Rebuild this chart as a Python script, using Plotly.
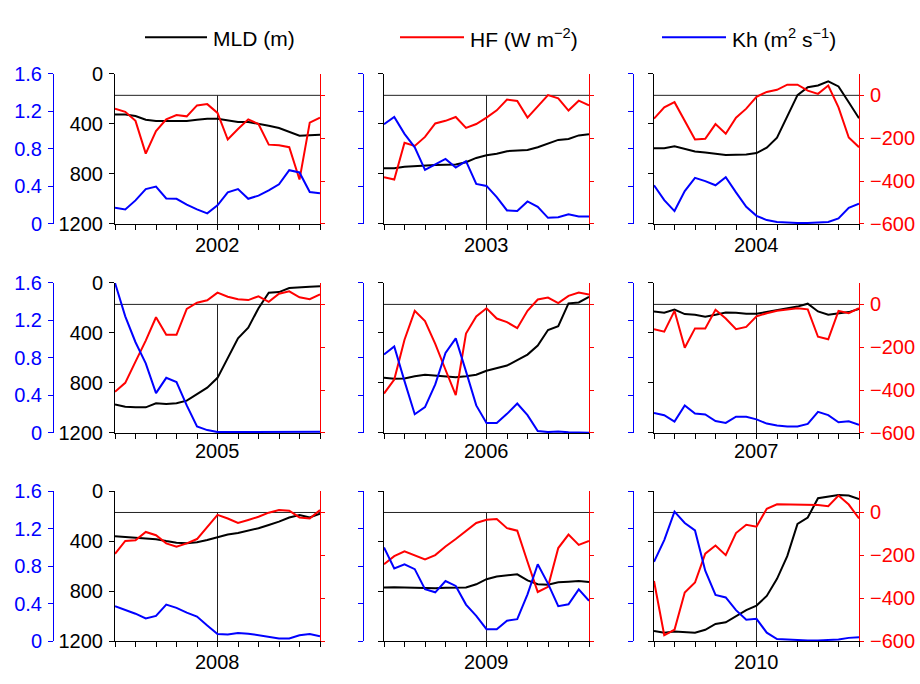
import plotly.graph_objects as go

# Monthly index across each panel (21 samples, tick every 2)
months = list(range(21))
years = [2002, 2003, 2004, 2005, 2006, 2007, 2008, 2009, 2010]

# Mixed layer depth (m)
mld_2002 = [325, 325, 337, 366, 376, 376, 376, 376, 366, 358, 358, 373, 384, 384, 397, 415, 433, 464, 494, 490, 487]
mld_2003 = [754, 754, 742, 736, 734, 729, 726, 724, 706, 672, 651, 639, 618, 610, 608, 587, 556, 528, 520, 492, 482]
mld_2004 = [595, 595, 579, 597, 621, 628, 636, 649, 646, 644, 633, 590, 510, 337, 170, 106, 93, 59, 100, 227, 355]
mld_2005 = [972, 990, 995, 995, 962, 969, 962, 941, 889, 837, 759, 604, 443, 358, 202, 78, 73, 41, 34, 31, 26]
mld_2006 = [759, 767, 765, 746, 734, 741, 752, 754, 746, 734, 702, 682, 661, 617, 573, 500, 376, 345, 163, 156, 111]
mld_2007 = [228, 238, 213, 249, 254, 270, 254, 236, 238, 246, 246, 233, 220, 207, 189, 166, 228, 254, 241, 233, 207]
mld_2008 = [361, 367, 374, 374, 385, 400, 413, 418, 410, 392, 367, 348, 336, 317, 297, 271, 245, 212, 191, 212, 181]
mld_2009 = [772, 769, 772, 774, 777, 777, 774, 772, 772, 746, 705, 684, 676, 666, 715, 746, 749, 730, 725, 720, 728]
mld_2010 = [1120, 1133, 1123, 1125, 1133, 1110, 1063, 1050, 1004, 952, 916, 839, 702, 521, 263, 212, 57, 44, 31, 36, 65]

# Surface heat flux (W m-2)
hf_2002 = [-62, -77, -119, -272, -167, -112, -92, -98, -47, -41, -82, -206, -157, -112, -134, -230, -233, -242, -393, -127, -104]
hf_2003 = [-382, -393, -221, -236, -194, -131, -119, -101, -152, -134, -104, -70, -20, -26, -104, -52, 1, -14, -71, -25, -47]
hf_2004 = [-109, -56, -32, -122, -206, -203, -134, -179, -104, -62, -7, 16, 26, 50, 50, 22, 7, 46, -56, -197, -242]
hf_2005 = [-408, -366, -267, -169, -60, -142, -142, -21, 8, 19, 55, 36, 24, 20, 38, 12, 50, 61, 33, 24, 47]
hf_2006 = [-416, -351, -165, -30, -78, -184, -305, -423, -136, -56, -18, -66, -83, -111, -30, 23, 32, 6, 40, 55, 46]
hf_2007 = [-116, -127, -30, -202, -112, -112, -25, -66, -116, -105, -56, -41, -30, -25, -18, -23, -151, -163, -30, -41, -18]
hf_2008 = [-193, -133, -130, -91, -106, -144, -160, -144, -124, -66, -11, -28, -49, -35, -20, -1, 11, 8, -23, -28, 11]
hf_2009 = [-242, -204, -181, -199, -219, -199, -159, -124, -88, -49, -34, -31, -73, -85, -230, -371, -347, -166, -103, -151, -133]
hf_2010 = [-320, -573, -547, -373, -327, -192, -154, -199, -96, -57, -66, 17, 38, 38, 37, 35, 35, 29, 79, 37, -28]

# Horizontal eddy diffusivity (m2 s-1)
kh_2002 = [0.172, 0.155, 0.251, 0.371, 0.398, 0.271, 0.268, 0.206, 0.155, 0.113, 0.199, 0.336, 0.371, 0.268, 0.302, 0.357, 0.422, 0.573, 0.549, 0.340, 0.326]
kh_2003 = [1.064, 1.140, 0.961, 0.817, 0.577, 0.635, 0.693, 0.601, 0.669, 0.426, 0.405, 0.285, 0.144, 0.137, 0.240, 0.182, 0.065, 0.072, 0.103, 0.079, 0.079]
kh_2004 = [0.412, 0.254, 0.137, 0.350, 0.491, 0.457, 0.412, 0.498, 0.336, 0.182, 0.086, 0.041, 0.021, 0.014, 0.010, 0.010, 0.014, 0.021, 0.058, 0.172, 0.216]
kh_2005 = [1.600, 1.244, 0.968, 0.743, 0.425, 0.588, 0.543, 0.294, 0.069, 0.031, 0.010, 0.010, 0.010, 0.014, 0.010, 0.010, 0.010, 0.010, 0.010, 0.010, 0.014]
kh_2006 = [0.836, 0.923, 0.553, 0.200, 0.276, 0.518, 0.854, 1.009, 0.657, 0.294, 0.107, 0.107, 0.204, 0.314, 0.190, 0.021, 0.010, 0.017, 0.007, 0.007, 0.003]
kh_2007 = [0.214, 0.190, 0.121, 0.294, 0.207, 0.197, 0.128, 0.107, 0.173, 0.173, 0.145, 0.100, 0.079, 0.069, 0.069, 0.097, 0.225, 0.190, 0.114, 0.124, 0.086]
kh_2008 = [0.372, 0.330, 0.292, 0.241, 0.268, 0.389, 0.354, 0.303, 0.262, 0.165, 0.076, 0.069, 0.086, 0.079, 0.062, 0.041, 0.028, 0.028, 0.062, 0.076, 0.052]
kh_2009 = [0.998, 0.774, 0.819, 0.767, 0.554, 0.520, 0.640, 0.588, 0.389, 0.268, 0.127, 0.127, 0.217, 0.234, 0.499, 0.819, 0.613, 0.372, 0.392, 0.551, 0.430]
kh_2010 = [0.846, 1.077, 1.380, 1.259, 1.180, 0.750, 0.492, 0.465, 0.330, 0.227, 0.237, 0.089, 0.021, 0.014, 0.010, 0.007, 0.007, 0.010, 0.017, 0.034, 0.041]

mld_ticks = [0, 400, 800, 1200]
hf_ticks = [-600, -400, -200, 0]
kh_ticks = [0, 0.4, 0.8, 1.2, 1.6]
kh_labels = ["0", "0.4", "0.8", "1.2", "1.6"]

mld = [mld_2002, mld_2003, mld_2004, mld_2005, mld_2006, mld_2007, mld_2008, mld_2009, mld_2010]
hf = [hf_2002, hf_2003, hf_2004, hf_2005, hf_2006, hf_2007, hf_2008, hf_2009, hf_2010]
kh = [kh_2002, kh_2003, kh_2004, kh_2005, kh_2006, kh_2007, kh_2008, kh_2009, kh_2010]

W, H = 920, 684
FONT = "Liberation Sans, Arial, Helvetica, sans-serif"
FS = 20
BLACK, RED, BLUE = "#000000", "#ff0000", "#0000ff"

# panel frames in pixels: left edges of columns, top edges of rows
col_left = [115, 384, 654]
kh_axis_x = [53, 363, 633]
row_top = [65, 281, 496]
pw, ph = 205, 155
label_y = [242, 455, 673]


def px(x):
    return x / W


def py(y):
    return 1 - y / H


fig = go.Figure()
layout = dict(
    width=W, height=H, margin=dict(l=0, r=0, t=0, b=0),
    paper_bgcolor="white", plot_bgcolor="white",
    showlegend=False, font=dict(family=FONT, size=FS, color=BLACK),
)
shapes, annotations = [], []

for k, yr in enumerate(years):
    r, c = divmod(k, 3)
    xn = k + 1
    ym, yh, yk = 3 * k + 1, 3 * k + 2, 3 * k + 3
    xs = "" if xn == 1 else str(xn)
    sm = "" if ym == 1 else str(ym)
    xdom = [px(col_left[c]), px(col_left[c] + pw)]
    ydom = [py(row_top[r] + ph), py(row_top[r])]

    layout["xaxis" + xs] = dict(
        domain=xdom, anchor="y" + sm, range=[0, 20], tickvals=list(range(0, 21, 2)),
        showticklabels=False, ticks="outside", ticklen=5, tickcolor=BLACK,
        showline=True, linecolor=BLACK, linewidth=1, showgrid=False, zeroline=False,
        fixedrange=True,
    )
    layout["yaxis" + sm] = dict(
        domain=ydom, anchor="x" + xs, range=[1200, 0], tickvals=mld_ticks,
        showticklabels=(c == 0), ticks="outside", ticklen=5, tickcolor=BLACK,
        tickfont=dict(color=BLACK, size=FS), showline=True, linecolor=BLACK,
        linewidth=1, showgrid=False, zeroline=False, ticklabelstandoff=2,
    )
    layout["yaxis" + str(yh)] = dict(
        overlaying="y" + sm, anchor="x" + xs, side="right", range=[-600, 100],
        tickvals=hf_ticks, showticklabels=(c == 2), ticks="outside", ticklen=4,
        tickcolor=RED, tickfont=dict(color=RED, size=FS), showline=True,
        linecolor=RED, linewidth=1, showgrid=False, zeroline=False,
        ticklabelstandoff=2,
    )
    layout["yaxis" + str(yk)] = dict(
        overlaying="y" + sm, anchor="free", position=px(kh_axis_x[c]), side="left",
        range=[0, 1.6], tickvals=kh_ticks, ticktext=kh_labels,
        showticklabels=(c == 0), ticks="outside", ticklen=5, tickcolor=BLUE,
        tickfont=dict(color=BLUE, size=FS), showline=True, linecolor=BLUE,
        linewidth=1, showgrid=False, zeroline=False, ticklabelstandoff=2,
    )

    fig.add_trace(go.Scatter(x=months, y=mld[k], mode="lines", name="MLD (m)",
                             line=dict(color=BLACK, width=2), xaxis="x" + xs, yaxis="y" + sm))
    fig.add_trace(go.Scatter(x=months, y=hf[k], mode="lines", name="HF",
                             line=dict(color=RED, width=2), xaxis="x" + xs, yaxis="y" + str(yh)))
    fig.add_trace(go.Scatter(x=months, y=kh[k], mode="lines", name="Kh",
                             line=dict(color=BLUE, width=2), xaxis="x" + xs, yaxis="y" + str(yk)))

    # zero heat-flux reference and mid-panel (January) marker
    shapes.append(dict(type="line", xref="x" + xs, yref="y" + str(yh), x0=0, x1=20, y0=0, y1=0,
                       line=dict(color="#222222", width=1), layer="below"))
    shapes.append(dict(type="line", xref="x" + xs, yref="y" + str(yh), x0=10, x1=10, y0=-600, y1=0,
                       line=dict(color="#222222", width=1), layer="below"))

    annotations.append(dict(text=str(yr), xref="paper", yref="paper",
                            x=px(col_left[c] + pw / 2), y=py(label_y[r]),
                            xanchor="center", yanchor="middle", showarrow=False,
                            font=dict(size=FS, color=BLACK)))

# legend row
legend_items = [
    ("MLD (m)", BLACK, 145, 207),
    ("HF (W m<sup>\u22122</sup>)", RED, 400, 464),
    ("Kh (m<sup>2</sup> s<sup>\u22121</sup>)", BLUE, 662, 726),
]
for text, color, x0, x1 in legend_items:
    shapes.append(dict(type="line", xref="paper", yref="paper", x0=px(x0), x1=px(x1),
                       y0=py(27), y1=py(27), line=dict(color=color, width=2)))
    annotations.append(dict(text=text, xref="paper", yref="paper", x=px(x1 + 4), y=py(28),
                            xanchor="left", yanchor="middle", showarrow=False,
                            font=dict(size=21, color=BLACK)))

layout["shapes"] = shapes
layout["annotations"] = annotations
fig.update_layout(**layout)
fig.write_html("out.html")
